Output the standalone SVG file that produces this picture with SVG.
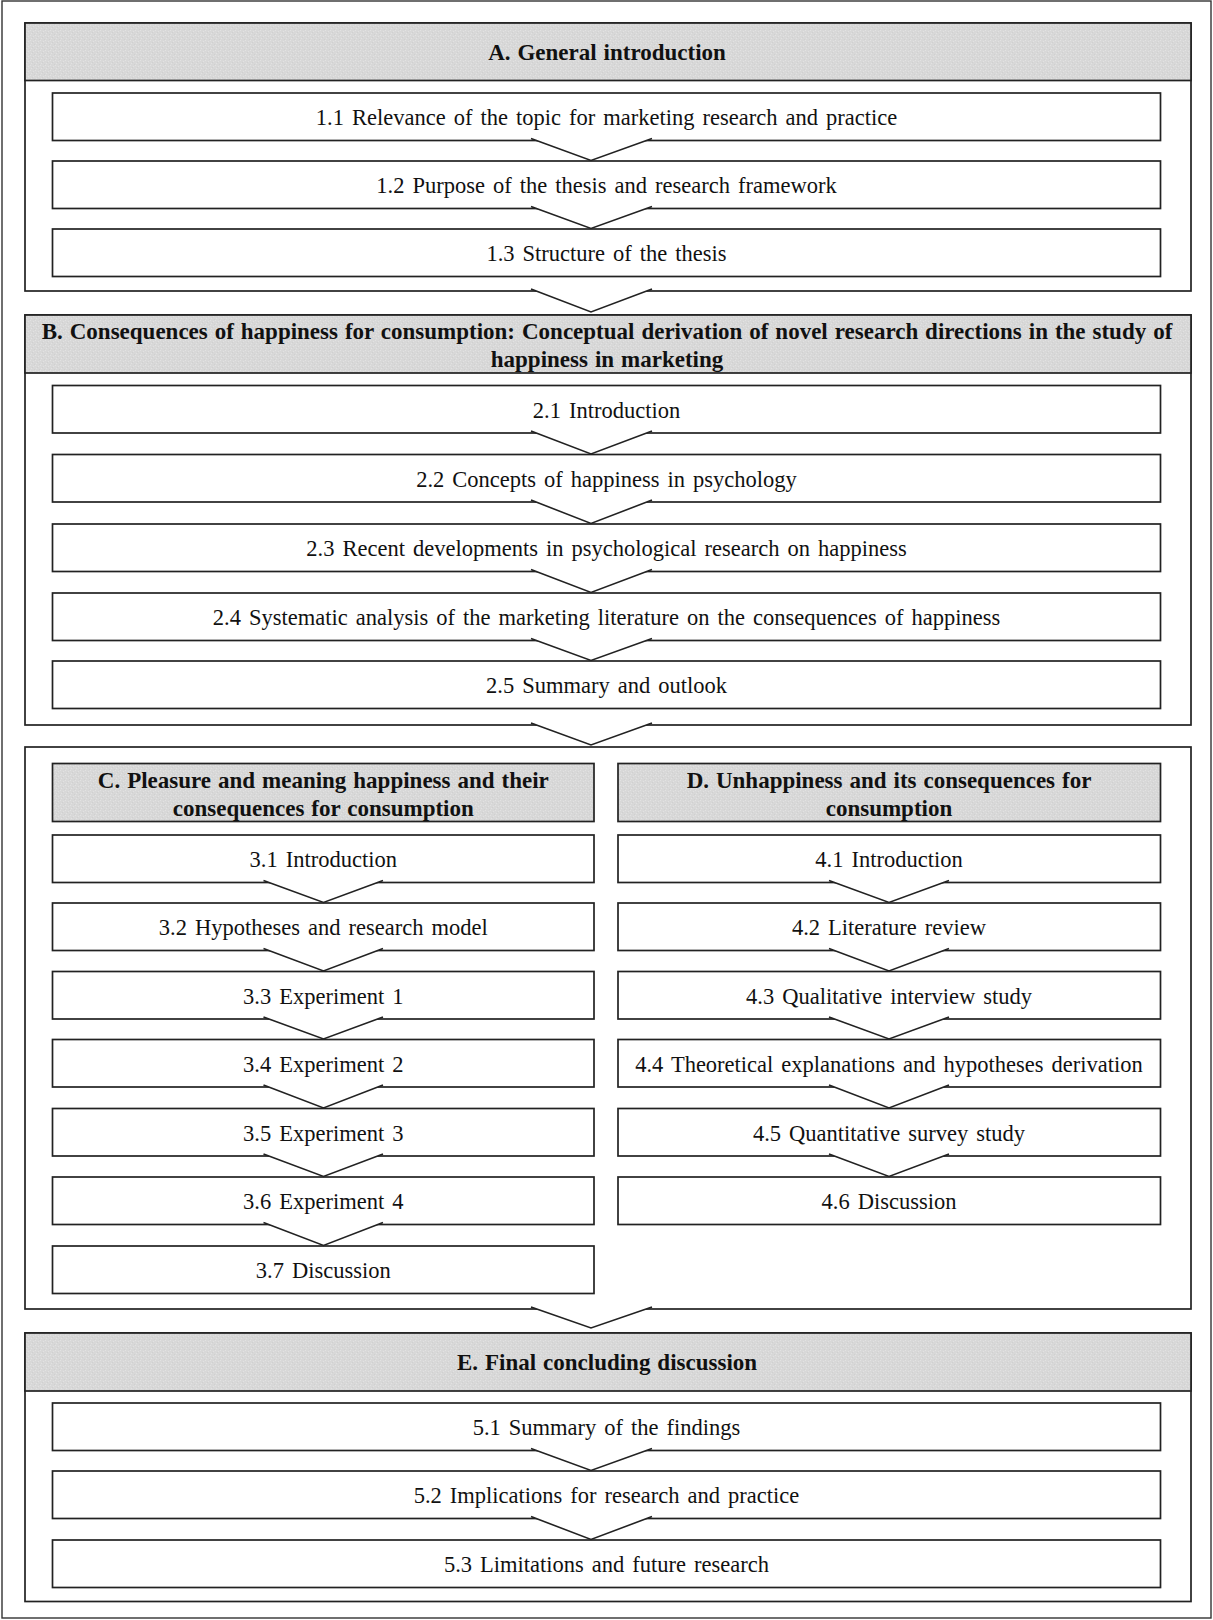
<svg xmlns="http://www.w3.org/2000/svg" width="1213" height="1620" viewBox="0 0 1213 1620" font-family="'Liberation Serif', 'Times New Roman', serif">
  <defs>
    <pattern id="grain" width="5" height="5" patternUnits="userSpaceOnUse">
      <rect width="5" height="5" fill="#d8d8d8"/>
      <rect x="0" y="0" width="1" height="1" fill="#e2e2e2"/>
      <rect x="3" y="1" width="1" height="1" fill="#e2e2e2"/>
      <rect x="1" y="3" width="1" height="1" fill="#e2e2e2"/>
      <rect x="4" y="4" width="1" height="1" fill="#d0d0d0"/>
      <rect x="2" y="2" width="1" height="1" fill="#d0d0d0"/>
    </pattern>
  </defs>
  <style>
    .frame { fill: #ffffff; stroke: #222222; stroke-width: 1.7; }
    .head { fill: url(#grain); stroke: #222222; stroke-width: 1.7; }
    .box { fill: #ffffff; stroke: #222222; stroke-width: 1.7; }
    .chev { fill: #ffffff; stroke: #222222; stroke-width: 1.6; stroke-linejoin: miter; }
    text { fill: #111111; text-anchor: middle; }
    .t { font-size: 22.5px; word-spacing: 2.4px; }
    .h { font-size: 23px; font-weight: bold; word-spacing: 1.2px; }
  </style>

  <rect width="1213" height="1620" fill="#ffffff"/>
  <!-- page border -->
  <rect x="2" y="1" width="1209" height="1617" fill="none" stroke="#333333" stroke-width="1.4"/>

  <!-- Part A -->
  <g id="partA">
    <rect class="frame" x="25" y="23" width="1166" height="268"/>
    <rect class="head" x="25" y="23" width="1166" height="57.5"/>
    <text class="h" x="607" y="60">A. General introduction</text>
  </g>
  <g id="s1_1"><rect class="box" x="52.5" y="93" width="1108" height="47.5"/><text class="t" x="606.5" y="125">1.1 Relevance of the topic for marketing research and practice</text></g>
  <g id="s1_2"><rect class="box" x="52.5" y="161" width="1108" height="47.5"/><text class="t" x="606.5" y="193">1.2 Purpose of the thesis and research framework</text></g>
  <g id="s1_3"><rect class="box" x="52.5" y="229" width="1108" height="47.5"/><text class="t" x="606.5" y="261">1.3 Structure of the thesis</text></g>

  <!-- Part B -->
  <g id="partB">
    <rect class="frame" x="25" y="315" width="1166" height="410"/>
    <rect class="head" x="25" y="315" width="1166" height="58"/>
    <text class="h" x="607" y="339">B. Consequences of happiness for consumption: Conceptual derivation of novel research directions in the study of</text>
    <text class="h" x="607" y="367">happiness in marketing</text>
  </g>
  <g id="s2_1"><rect class="box" x="52.5" y="385.5" width="1108" height="47.5"/><text class="t" x="606.5" y="417.5">2.1 Introduction</text></g>
  <g id="s2_2"><rect class="box" x="52.5" y="454.5" width="1108" height="47.5"/><text class="t" x="606.5" y="486.5">2.2 Concepts of happiness in psychology</text></g>
  <g id="s2_3"><rect class="box" x="52.5" y="524" width="1108" height="47.5"/><text class="t" x="606.5" y="556">2.3 Recent developments in psychological research on happiness</text></g>
  <g id="s2_4"><rect class="box" x="52.5" y="593" width="1108" height="47.5"/><text class="t" x="606.5" y="625">2.4 Systematic analysis of the marketing literature on the consequences of happiness</text></g>
  <g id="s2_5"><rect class="box" x="52.5" y="661" width="1108" height="47.5"/><text class="t" x="606.5" y="693">2.5 Summary and outlook</text></g>

  <!-- Parts C and D -->
  <g id="partCD">
    <rect class="frame" x="25" y="747" width="1166" height="562"/>
  </g>
  <g id="partC">
    <rect class="head" x="52.5" y="763.5" width="541.5" height="58"/>
    <text class="h" x="323.3" y="787.5">C. Pleasure and meaning happiness and their</text>
    <text class="h" x="323.3" y="815.5">consequences for consumption</text>
  </g>
  <g id="partD">
    <rect class="head" x="618" y="763.5" width="542.5" height="58"/>
    <text class="h" x="889" y="787.5">D. Unhappiness and its consequences for</text>
    <text class="h" x="889" y="815.5">consumption</text>
  </g>
  <g id="s3_1"><rect class="box" x="52.5" y="835" width="541.5" height="47.5"/><text class="t" x="323.3" y="867">3.1 Introduction</text></g>
  <g id="s3_2"><rect class="box" x="52.5" y="903" width="541.5" height="47.5"/><text class="t" x="323.3" y="935">3.2 Hypotheses and research model</text></g>
  <g id="s3_3"><rect class="box" x="52.5" y="971.5" width="541.5" height="47.5"/><text class="t" x="323.3" y="1003.5">3.3 Experiment 1</text></g>
  <g id="s3_4"><rect class="box" x="52.5" y="1039.5" width="541.5" height="47.5"/><text class="t" x="323.3" y="1071.5">3.4 Experiment 2</text></g>
  <g id="s3_5"><rect class="box" x="52.5" y="1108.5" width="541.5" height="47.5"/><text class="t" x="323.3" y="1140.5">3.5 Experiment 3</text></g>
  <g id="s3_6"><rect class="box" x="52.5" y="1177" width="541.5" height="47.5"/><text class="t" x="323.3" y="1209">3.6 Experiment 4</text></g>
  <g id="s3_7"><rect class="box" x="52.5" y="1246" width="541.5" height="47.5"/><text class="t" x="323.3" y="1278">3.7 Discussion</text></g>

  <g id="s4_1"><rect class="box" x="618" y="835" width="542.5" height="47.5"/><text class="t" x="889" y="867">4.1 Introduction</text></g>
  <g id="s4_2"><rect class="box" x="618" y="903" width="542.5" height="47.5"/><text class="t" x="889" y="935">4.2 Literature review</text></g>
  <g id="s4_3"><rect class="box" x="618" y="971.5" width="542.5" height="47.5"/><text class="t" x="889" y="1003.5">4.3 Qualitative interview study</text></g>
  <g id="s4_4"><rect class="box" x="618" y="1039.5" width="542.5" height="47.5"/><text class="t" x="889" y="1071.5">4.4 Theoretical explanations and hypotheses derivation</text></g>
  <g id="s4_5"><rect class="box" x="618" y="1108.5" width="542.5" height="47.5"/><text class="t" x="889" y="1140.5">4.5 Quantitative survey study</text></g>
  <g id="s4_6"><rect class="box" x="618" y="1177" width="542.5" height="47.5"/><text class="t" x="889" y="1209">4.6 Discussion</text></g>

  <!-- Part E -->
  <g id="partE">
    <rect class="frame" x="25" y="1333" width="1166" height="268.5"/>
    <rect class="head" x="25" y="1333" width="1166" height="58"/>
    <text class="h" x="607" y="1370">E. Final concluding discussion</text>
  </g>
  <g id="s5_1"><rect class="box" x="52.5" y="1403" width="1108" height="47.5"/><text class="t" x="606.5" y="1435">5.1 Summary of the findings</text></g>
  <g id="s5_2"><rect class="box" x="52.5" y="1471" width="1108" height="47.5"/><text class="t" x="606.5" y="1503">5.2 Implications for research and practice</text></g>
  <g id="s5_3"><rect class="box" x="52.5" y="1540" width="1108" height="47.5"/><text class="t" x="606.5" y="1572">5.3 Limitations and future research</text></g>

  <!-- chevron connectors: each notch covers the lower edge of its source -->
  <g id="connectors">
    <path class="chev" d="M531,138.5 L591,160.5 L652,138.5"/>
    <path class="chev" d="M531,206.5 L591,228.5 L652,206.5"/>
    <path class="chev" d="M531,289 L591,312 L652,289"/>
    <path class="chev" d="M531,431 L591,454 L652,431"/>
    <path class="chev" d="M531,500 L591,523.5 L652,500"/>
    <path class="chev" d="M531,569.5 L591,592.5 L652,569.5"/>
    <path class="chev" d="M531,638.5 L591,660.5 L652,638.5"/>
    <path class="chev" d="M531,723 L591,745 L652,723"/>
    <path class="chev" d="M263.5,880.5 L323.5,902.5 L383,880.5"/>
    <path class="chev" d="M263.5,948.5 L323.5,971 L383,948.5"/>
    <path class="chev" d="M263.5,1017 L323.5,1039 L383,1017"/>
    <path class="chev" d="M263.5,1085 L323.5,1108 L383,1085"/>
    <path class="chev" d="M263.5,1154 L323.5,1176.5 L383,1154"/>
    <path class="chev" d="M263.5,1222.5 L323.5,1245.5 L383,1222.5"/>
    <path class="chev" d="M829,880.5 L889,902.5 L949,880.5"/>
    <path class="chev" d="M829,948.5 L889,971 L949,948.5"/>
    <path class="chev" d="M829,1017 L889,1039 L949,1017"/>
    <path class="chev" d="M829,1085 L889,1108 L949,1085"/>
    <path class="chev" d="M829,1154 L889,1176.5 L949,1154"/>
    <path class="chev" d="M531,1307 L591,1328 L652,1307"/>
    <path class="chev" d="M531,1448.5 L591,1470.5 L652,1448.5"/>
    <path class="chev" d="M531,1516.5 L591,1539.5 L652,1516.5"/>
  </g>
</svg>
